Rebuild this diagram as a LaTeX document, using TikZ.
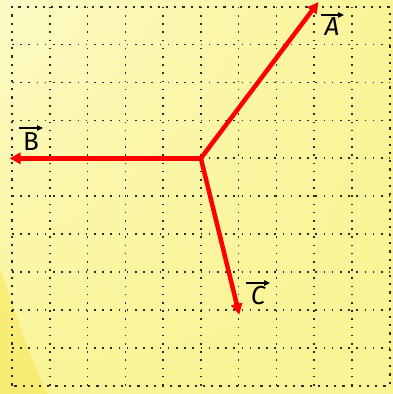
\documentclass[tikz,border=0pt]{standalone}
\usepackage{fontspec}
\setmainfont{Fira Sans}
\usetikzlibrary{arrows.meta,shadings}
\definecolor{bgA}{RGB}{252,250,198}
\definecolor{bgB}{RGB}{250,244,150}
\definecolor{blobc}{RGB}{244,228,70}
\definecolor{dotc}{RGB}{45,45,40}
\tikzset{
 gridin/.style={dotc, line width=1.6pt, dash pattern=on 1.6pt off 6.6pt},
 gridout/.style={dotc, line width=2.2pt, dash pattern=on 2.2pt off 6pt},
 vecline/.style={red, line width=4.5pt, -{Triangle[length=11pt,width=11pt]}},
 lbl/.style={font=\fontsize{26}{26}\selectfont, inner sep=0pt},
 overarrow/.style={black, line width=1.5pt, -{Triangle[length=6pt,width=5.5pt]}}
}
\begin{document}
\begin{tikzpicture}[x=1pt,y=1pt]
\useasboundingbox (0,0) rectangle (393,394);
% background
\shade[upper left=bgA, upper right=bgB, lower left=bgB, lower right=bgB] (0,0) rectangle (393,394);
\fill[blobc, opacity=0.45] (0,0) -- (0,125) .. controls (12,95) and (25,45) .. (48,0) -- cycle;
% grid
\foreach \i in {1,...,9} {
  \draw[gridin] ({12+\i*37.77},8.3) -- ({12+\i*37.77},387.3);
  \draw[gridin] (12,{8.3+\i*37.9}) -- (389.7,{8.3+\i*37.9});
}
\draw[gridout] (12,8.3) rectangle (389.7,387.3);
% vectors
\coordinate (O) at (200.85,235.7);
\coordinate (Aend) at (318.5,392);
\coordinate (Bend) at (9.5,235.7);
\coordinate (Cend) at (239.3,79.3);
\draw[vecline] (O) -- (Aend);
\draw[vecline] (O) -- (Bend);
\draw[vecline] (O) -- (Cend);
% labels
\node[lbl, font=\fontsize{26}{26}\selectfont\itshape] (la) at (332,367) {A};
\node[lbl] (lb) at (31,252) {B};
\node[lbl, font=\fontsize{26}{26}\selectfont\itshape] (lc) at (258,98) {C};
\draw[overarrow] ([shift={(-11,12)}]la.center) -- ([shift={(12,12)}]la.center);
\draw[overarrow] ([shift={(-12,14)}]lb.center) -- ([shift={(12,14)}]lb.center);
\draw[overarrow] ([shift={(-12,13)}]lc.center) -- ([shift={(12,13)}]lc.center);
\end{tikzpicture}
\end{document}
